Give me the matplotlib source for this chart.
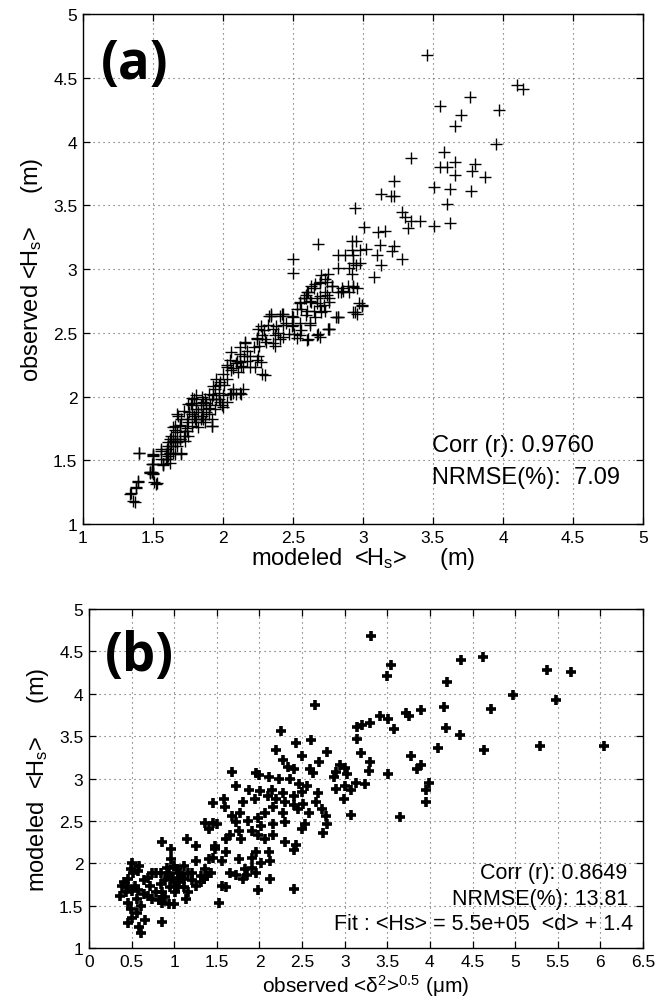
import matplotlib
matplotlib.use("Agg")
import matplotlib.pyplot as plt
import numpy as np

plt.rcParams['font.family'] = ['Liberation Sans', 'DejaVu Sans']
plt.rcParams['mathtext.default'] = 'regular'

# ---- panel (a): modeled vs observed <Hs> ----
a_modeled = [3.46, 4.10, 4.14, 3.55, 3.765, 3.70, 3.66, 3.97, 3.95, 3.34, 3.58, 3.55, 3.60, 3.66, 3.66,
             3.80, 3.78, 3.875, 3.51, 3.62, 3.77, 3.60, 3.51, 3.62, 3.22, 3.13, 3.20, 3.22, 3.28, 3.30,
             3.34, 3.41, 3.32, 2.94, 3.01, 3.11, 3.16, 3.12, 3.22, 3.21, 3.02, 3.10, 3.28, 3.13, 3.08,
             2.68, 2.92, 2.95, 2.92, 2.98, 2.93, 2.82, 2.87, 2.93, 2.98, 2.95, 2.90, 2.82, 2.50, 2.50,
             2.92, 2.93, 2.96, 2.94, 2.99, 2.82, 2.76,
             1.337, 1.37, 1.38, 1.39, 1.40, 1.50, 1.50, 1.48, 1.50, 1.52, 1.57, 1.56, 1.61,
             1.50, 1.49, 1.49, 1.48, 1.51, 1.57, 1.59, 1.62, 1.61, 1.63, 1.64, 1.67, 1.66, 1.69, 1.68,
             1.70, 1.72, 1.70, 1.67, 1.74, 1.75, 1.76, 1.78, 1.79, 1.81, 1.80, 1.82, 1.84, 1.85, 1.87,
             1.86, 1.88, 1.91, 1.92, 1.92, 1.93, 1.94, 1.97, 1.95, 1.98, 2.00, 2.03, 2.05, 2.07, 2.09,
             2.12, 2.14, 2.00, 2.03, 2.05, 2.06, 2.09, 2.10, 2.12, 2.13, 2.11, 2.15, 2.17, 2.16, 2.12,
             2.19, 2.19, 2.23, 2.24, 2.25, 2.28, 2.26, 2.24, 2.25, 2.29, 2.28, 2.30, 2.31, 2.32, 2.34,
             2.36, 2.37, 2.39, 2.41, 2.37, 2.42, 2.43, 2.45, 2.47, 2.49, 2.50, 2.51, 2.53, 2.56, 2.60,
             2.62, 2.67, 2.68, 2.75, 2.81, 2.93, 2.97, 2.55, 2.53, 2.59, 2.60, 2.63, 2.65, 2.67, 2.69,
             2.70, 2.73, 2.76, 2.84, 2.86, 2.89, 2.93, 2.63, 2.66, 2.69, 2.74, 2.78, 2.61, 2.59, 2.74,
             2.34, 2.43, 2.50, 2.27, 2.38, 2.49, 2.55, 2.59, 2.66, 2.62, 2.55, 2.58, 2.62, 2.67, 2.72,
             2.60, 2.65, 2.69, 2.73, 2.70, 2.75, 2.78, 2.82, 2.85, 2.90, 2.76, 2.73, 2.69, 2.56,
             1.40, 1.50, 1.50, 1.48, 1.50, 1.53, 1.39, 1.38, 1.34, 1.36, 1.56, 1.57, 1.60, 1.62, 1.63,
             1.64, 1.67, 1.69, 1.70, 1.66, 1.62, 1.73,
             1.61, 1.66, 1.67, 1.69, 1.74, 1.77, 1.78, 1.81, 1.86, 1.90, 1.92, 1.93, 1.97, 2.00, 2.06,
             2.13, 2.07, 2.03, 2.06, 2.16, 2.24, 2.27, 2.30, 2.33, 2.41, 2.36, 2.43, 2.55, 2.61, 2.69,
             2.76, 2.82, 2.96, 2.99,
             1.645, 1.66, 1.69, 1.73, 1.75, 1.78, 1.79, 1.81, 1.82, 1.85, 1.86, 1.88, 1.90, 1.92, 1.94,
             1.97, 1.98, 1.95, 2.01, 1.99, 1.60, 1.62, 1.59, 1.56, 1.64, 1.72, 1.74, 1.75, 1.78, 1.81,
             1.84, 1.87, 1.90, 2.03, 2.07, 2.14, 2.17, 2.22, 2.12]
a_observed = [4.68, 4.44, 4.41, 4.28, 4.35, 4.21, 4.12, 4.25, 3.98, 3.87, 3.92, 3.80, 3.80, 3.84, 3.74,
              3.82, 3.77, 3.72, 3.64, 3.63, 3.61, 3.51, 3.34, 3.36, 3.69, 3.59, 3.57, 3.57, 3.45, 3.41,
              3.38, 3.38, 3.32, 3.48, 3.33, 3.29, 3.30, 3.19, 3.18, 3.14, 3.16, 3.11, 3.08, 3.03, 2.94,
              3.20, 3.22, 3.22, 3.15, 3.15, 3.11, 3.11, 3.11, 3.05, 3.05, 3.03, 3.01, 3.01, 3.08, 2.97,
              2.96, 2.87, 2.85, 2.66, 2.72, 2.62, 2.53,
              1.234, 1.176, 1.28, 1.34, 1.556, 1.535, 1.47, 1.40, 1.39, 1.31, 1.46, 1.57, 1.53,
              1.55, 1.47, 1.41, 1.41, 1.33, 1.47, 1.51, 1.56, 1.61, 1.69, 1.67, 1.72, 1.77, 1.77, 1.85,
              1.82, 1.69, 1.56, 1.61, 1.75, 1.80, 1.88, 1.93, 1.98, 1.95, 1.82, 1.88, 1.93, 2.00, 1.98,
              1.82, 1.88, 1.93, 1.77, 1.82, 2.01, 2.06, 2.09, 1.98, 1.96, 2.01, 1.96, 2.02, 2.03, 2.02,
              2.03, 2.06, 2.18, 2.23, 2.29, 2.35, 2.26, 2.28, 2.27, 2.24, 2.19, 2.32, 2.36, 2.43, 2.39,
              2.32, 2.23, 2.23, 2.29, 2.32, 2.18, 2.40, 2.46, 2.53, 2.52, 2.48, 2.45, 2.43, 2.56, 2.63,
              2.53, 2.48, 2.50, 2.45, 2.40, 2.65, 2.56, 2.58, 2.49, 2.63, 2.56, 2.49, 2.46, 2.52, 2.44,
              2.56, 2.48, 2.49, 2.53, 2.62, 2.66, 2.73, 2.74, 2.69, 2.77, 2.67, 2.74, 2.67, 2.77, 2.71,
              2.66, 2.67, 2.74, 2.82, 2.83, 2.87, 2.86, 2.87, 2.88, 2.90, 2.90, 2.87, 2.82, 2.80, 2.80,
              2.65, 2.65, 2.62, 2.55, 2.55, 2.55, 2.58, 2.64, 2.62, 2.58, 2.73, 2.77, 2.75, 2.73, 2.72,
              2.82, 2.85, 2.89, 2.92, 2.95, 2.96, 2.87, 2.82, 2.85, 2.82, 2.77, 2.82, 2.79, 2.69,
              1.56, 1.54, 1.47, 1.41, 1.40, 1.32, 1.33, 1.29, 1.24, 1.18, 1.59, 1.47, 1.51, 1.56, 1.61,
              1.65, 1.64, 1.67, 1.55, 1.55, 1.48, 1.65,
              1.64, 1.74, 1.86, 1.78, 1.73, 1.95, 1.86, 1.90, 1.96, 1.91, 1.77, 2.08, 1.98, 1.92, 2.02,
              2.02, 2.06, 2.25, 2.21, 2.42, 2.45, 2.27, 2.17, 2.63, 2.63, 2.42, 2.47, 2.48, 2.45, 2.47,
              2.53, 2.62, 2.65, 2.71,
              1.56, 1.64, 1.67, 1.73, 1.69, 1.77, 1.85, 1.80, 1.76, 1.85, 1.90, 1.95, 2.02, 1.98, 1.90,
              2.03, 2.11, 2.14, 2.09, 1.93, 1.59, 1.67, 1.55, 1.51, 1.76, 1.89, 1.82, 1.94, 1.99, 2.01,
              1.82, 1.80, 1.86, 2.14, 2.22, 2.23, 2.28, 2.39, 2.33]

# ---- panel (b): observed displacement vs modeled <Hs> ----
b_observed = [3.31, 3.50, 3.54, 4.36, 4.62, 5.37, 5.65, 4.20, 4.98, 5.48, 4.72, 2.65, 4.17, 3.90, 3.72, 3.76,
              3.42, 3.51, 3.30, 3.20, 3.14, 3.58, 4.19, 3.15, 4.35, 5.29, 4.64, 6.04, 4.10, 3.19, 3.78,
              3.30, 3.28, 3.90, 3.85, 3.51, 3.99, 3.96, 3.95, 3.65, 3.08, 3.13, 3.24, 3.00, 2.99, 3.07,
              2.95, 3.00, 3.03, 2.90, 2.90, 2.87, 2.79, 2.70, 2.63, 2.59, 2.61, 2.43, 2.50, 2.25, 2.19,
              2.28, 2.34, 2.41, 1.68, 1.72, 1.96, 2.00, 2.11, 2.23, 2.36, 2.46, 2.56, 1.88, 2.01, 2.15,
              2.28, 2.41, 2.50, 2.69, 2.66, 2.51, 2.10, 2.20, 2.30, 2.41, 1.95, 1.81, 1.58, 1.46, 1.60,
              1.77, 1.36, 1.41, 1.50, 1.68, 1.72, 1.86, 1.98, 2.06, 2.16, 2.28, 2.45, 2.58, 2.73, 2.78,
              2.54, 2.50, 2.74, 2.79, 2.30, 2.16, 2.02, 1.91, 1.76, 1.61, 1.66, 1.78, 1.98, 2.06, 2.16,
              2.30, 2.43, 2.40, 1.15, 1.25, 0.86, 0.96, 1.26, 1.46, 1.48, 1.61, 1.56, 1.76, 1.91, 1.96,
              2.11, 2.12, 2.02, 1.91, 1.83, 1.96, 1.85, 1.73, 1.66, 1.81, 2.12, 1.98, 2.41, 1.52, 1.56,
              1.61, 1.43, 1.38, 1.35, 1.31, 1.25, 1.21, 1.16, 1.14, 1.12, 1.06, 1.00, 0.96, 0.91, 0.94,
              0.89, 0.84, 0.79, 0.82, 0.86, 0.94, 1.00, 1.01, 1.06, 1.11, 1.04, 0.99, 0.95, 0.72, 0.74,
              0.69, 0.64, 0.59, 0.57, 0.51, 0.49, 0.46, 0.46, 0.54, 0.44, 0.36, 0.46, 0.56, 0.49, 0.61,
              0.56, 0.51, 0.46, 0.66, 0.59, 0.61, 0.86, 0.69, 0.64, 0.74, 0.41, 0.39, 0.52, 0.50, 0.57,
              0.79, 0.84, 0.94, 1.03, 1.11, 1.16, 1.21, 1.08, 0.96, 1.01, 0.86, 0.89, 1.31, 1.36, 1.41,
              1.48, 1.46]
b_modeled = [4.68, 4.21, 4.34, 4.40, 4.43, 4.28, 4.25, 4.13, 3.98, 3.92, 3.82, 3.87, 3.84, 3.81, 3.77, 3.73,
             3.74, 3.70, 3.65, 3.63, 3.61, 3.58, 3.59, 3.47, 3.51, 3.38, 3.34, 3.38, 3.36, 3.30, 3.27,
             3.19, 3.09, 3.16, 3.11, 3.05, 2.95, 2.87, 2.72, 2.55, 2.57, 2.95, 2.94, 2.91, 2.76, 2.87,
             3.16, 3.12, 3.05, 3.08, 2.88, 3.02, 3.31, 3.19, 3.07, 3.11, 3.45, 3.42, 3.27, 3.56, 3.34,
             3.22, 3.13, 3.11, 3.08, 2.91, 3.07, 3.04, 3.02, 3.00, 2.99, 2.93, 2.91, 2.87, 2.85, 2.87,
             2.83, 2.80, 2.84, 2.83, 2.72, 2.70, 2.80, 2.76, 2.72, 2.69, 2.76, 2.72, 2.76, 2.71, 2.66,
             2.60, 2.48, 2.40, 2.46, 2.56, 2.49, 2.50, 2.54, 2.60, 2.66, 2.60, 2.64, 2.60, 2.64, 2.56,
             2.46, 2.41, 2.36, 2.46, 2.49, 2.46, 2.44, 2.38, 2.38, 2.29, 2.33, 2.29, 2.34, 2.29, 2.33,
             2.25, 2.22, 2.16, 2.29, 2.20, 2.25, 2.17, 2.03, 2.07, 2.17, 2.13, 2.03, 2.05, 2.07, 2.13,
             2.13, 2.03, 2.01, 1.95, 1.93, 1.89, 1.87, 1.87, 1.89, 1.82, 1.82, 1.69, 1.70, 1.53, 1.74,
             1.72, 1.89, 1.85, 1.82, 1.78, 1.74, 1.80, 1.66, 1.58, 1.72, 1.89, 1.97, 2.05, 1.95, 1.85,
             1.80, 1.76, 1.66, 1.57, 1.66, 1.52, 1.52, 1.66, 1.78, 1.82, 1.72, 1.82, 1.72, 1.74, 1.89,
             1.83, 1.80, 1.97, 1.91, 2.01, 1.93, 1.82, 1.72, 1.74, 1.66, 1.62, 1.54, 1.58, 1.46, 1.50,
             1.42, 1.36, 1.30, 1.34, 1.25, 1.18, 1.31, 1.62, 1.64, 1.58, 1.78, 1.74, 1.89, 1.68, 1.69,
             1.89, 1.89, 1.89, 1.93, 1.97, 1.89, 1.89, 1.85, 1.83, 1.74, 1.54, 1.60, 1.85, 1.93, 2.05,
             2.21, 2.48]

a_ticks = [1, 1.5, 2, 2.5, 3, 3.5, 4, 4.5, 5]
b_xticks = [0, 0.5, 1, 1.5, 2, 2.5, 3, 3.5, 4, 4.5, 5, 5.5, 6, 6.5]
b_yticks = [1, 1.5, 2, 2.5, 3, 3.5, 4, 4.5, 5]


def fmt(v):
    return ('%g' % v)


fig = plt.figure(figsize=(6.67, 10.04), dpi=100)
ax1 = fig.add_axes([0.1244, 0.4771, 0.8396, 0.5079])
ax2 = fig.add_axes([0.1334, 0.0543, 0.8306, 0.3386])

grid_kw = dict(color='0.35', linestyle=(0, (1, 3.5)), linewidth=0.8)

for ax in (ax1, ax2):
    ax.tick_params(direction='in', length=5, width=0.9, top=True, right=True,
                   labelsize=12.5, pad=4, colors='black')
    for s in ax.spines.values():
        s.set_linewidth(1.0)
    ax.grid(True, **grid_kw)
    ax.set_axisbelow(True)

# panel (a)
ax1.plot(a_modeled, a_observed, linestyle='none', marker='+', ms=8, mew=1.0, color='black')
ax1.set_xlim(1, 5)
ax1.set_ylim(1, 5)
ax1.set_xticks(a_ticks)
ax1.set_yticks(a_ticks)
ax1.set_xticklabels([fmt(t) for t in a_ticks])
ax1.set_yticklabels([fmt(t) for t in a_ticks])
ax1.set_xlabel('modeled  <H$_s$>     (m)', fontsize=17, labelpad=0)
ax1.set_ylabel('observed <H$_s$>     (m)', fontsize=17, labelpad=6)
ax1.text(1.13, 4.61, '(a)', fontsize=38, fontweight='bold', ha='left', va='center',
         family=['Open Sans', 'DejaVu Sans'])
ax1.text(3.49, 1.62, 'Corr (r): 0.9760', fontsize=17, ha='left', va='center')
ax1.text(3.49, 1.37, 'NRMSE(%):  7.09', fontsize=17, ha='left', va='center')

# panel (b)
ax2.plot(b_observed, b_modeled, linestyle='none', marker='+', ms=6.5, mew=2.6, color='black')
ax2.set_xlim(0, 6.5)
ax2.set_ylim(1, 5)
ax2.set_xticks(b_xticks)
ax2.set_yticks(b_yticks)
ax2.set_xticklabels([fmt(t) for t in b_xticks])
ax2.set_yticklabels([fmt(t) for t in b_yticks])
ax2.set_xlabel('observed <\u03b4$^2$>$^{0.5}$ (\u03bcm)', fontsize=15, labelpad=2)
ax2.set_ylabel('modeled  <H$_s$>     (m)', fontsize=17, labelpad=6)
ax2.text(0.19, 4.44, '(b)', fontsize=38, fontweight='bold', ha='left', va='center',
         family=['Open Sans', 'DejaVu Sans'])
ax2.text(6.31, 1.89, 'Corr (r): 0.8649', fontsize=15.5, ha='right', va='center')
ax2.text(6.33, 1.59, 'NRMSE(%): 13.81', fontsize=15.5, ha='right', va='center')
ax2.text(6.38, 1.29, 'Fit : <Hs> = 5.5e+05  <d> + 1.4', fontsize=15.5, ha='right', va='center')

fig.savefig('out.png', dpi=100)
